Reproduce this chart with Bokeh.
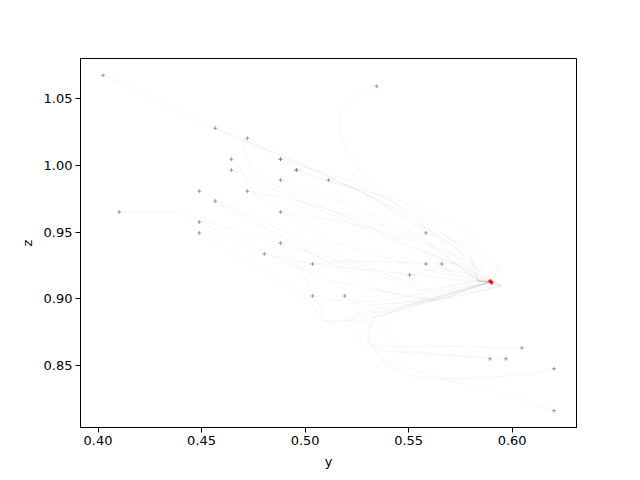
from bokeh.plotting import figure
from bokeh.embed import file_html
from bokeh.resources import INLINE
from bokeh.models import Range1d, FixedTicker, PrintfTickFormatter

# trajectories (y, z)
traj_x = [
    [0.4024, 0.4300, 0.4566, 0.4978, 0.5462, 0.5752, 0.5839, 0.5897],
    [0.4566, 0.4881, 0.5268, 0.5655, 0.5839, 0.5897],
    [0.4721, 0.4697, 0.4750, 0.4881, 0.5462, 0.5801, 0.5897],
    [0.4644, 0.4687, 0.4750, 0.5123, 0.5607, 0.5897],
    [0.4881, 0.5220, 0.5559, 0.5801, 0.5839, 0.5897],
    [0.4958, 0.5268, 0.5607, 0.5849, 0.5897],
    [0.4644, 0.4978, 0.5365, 0.5752, 0.5946, 0.5897],
    [0.4881, 0.5171, 0.5559, 0.5839, 0.5897],
    [0.5113, 0.5462, 0.5752, 0.5936, 0.5897],
    [0.4489, 0.4784, 0.5220, 0.5607, 0.5839, 0.5897],
    [0.4721, 0.4978, 0.5462, 0.5801, 0.5897],
    [0.4566, 0.4881, 0.5365, 0.5655, 0.5946, 0.5897],
    [0.4102, 0.4382, 0.4557, 0.5171, 0.5559, 0.5839, 0.5897],
    [0.4881, 0.5220, 0.5607, 0.5839, 0.5897],
    [0.4489, 0.4784, 0.5123, 0.5607, 0.5946, 0.5897],
    [0.4489, 0.4784, 0.5026, 0.5084, 0.5147, 0.5365, 0.5704, 0.5897],
    [0.4881, 0.4978, 0.5075, 0.5089, 0.5268, 0.5607, 0.5897],
    [0.4803, 0.5036, 0.5365, 0.5704, 0.5897],
    [0.5346, 0.5244, 0.5171, 0.5166, 0.5205, 0.5268, 0.5380, 0.5622, 0.5786, 0.5839, 0.5897],
    [0.5583, 0.5801, 0.5936, 0.5897],
    [0.5036, 0.5220, 0.5559, 0.5801, 0.5897],
    [0.5583, 0.5752, 0.5849, 0.5897],
    [0.5660, 0.5728, 0.5801, 0.5897],
    [0.5505, 0.5607, 0.5752, 0.5897],
    [0.5036, 0.5171, 0.5365, 0.5655, 0.5897],
    [0.5191, 0.5268, 0.5559, 0.5897],
    [0.6047, 0.5559, 0.5283, 0.5210, 0.5254, 0.5704, 0.5897],
    [0.5893, 0.5380, 0.5302, 0.5317, 0.5704, 0.5897],
    [0.5970, 0.5462, 0.5365, 0.5462, 0.5752, 0.5897],
    [0.6202, 0.6106, 0.5786, 0.5544, 0.5380, 0.5302, 0.5326, 0.5428, 0.5752, 0.5897],
    [0.6202, 0.6028, 0.5704, 0.5380, 0.5283, 0.5350, 0.5655, 0.5897],
]
traj_y = [
    [1.0672, 1.0478, 1.0276, 1.0015, 0.9657, 0.9358, 0.9134, 0.9127],
    [1.0276, 1.0067, 0.9806, 0.9433, 0.9134, 0.9127],
    [1.0201, 1.0127, 0.9955, 0.9828, 0.9433, 0.9209, 0.9127],
    [1.0045, 0.9978, 0.9784, 0.9433, 0.9209, 0.9127],
    [1.0045, 0.9881, 0.9619, 0.9321, 0.9134, 0.9127],
    [0.9963, 0.9806, 0.9507, 0.9246, 0.9127],
    [0.9963, 0.9731, 0.9470, 0.9246, 0.9097, 0.9127],
    [0.9888, 0.9731, 0.9470, 0.9134, 0.9127],
    [0.9888, 0.9731, 0.9545, 0.9231, 0.9127],
    [0.9806, 0.9582, 0.9284, 0.9060, 0.9134, 0.9127],
    [0.9806, 0.9731, 0.9507, 0.9269, 0.9127],
    [0.9731, 0.9470, 0.9060, 0.8985, 0.9097, 0.9127],
    [0.9649, 0.9649, 0.9560, 0.9284, 0.9060, 0.9134, 0.9127],
    [0.9649, 0.9567, 0.9396, 0.9134, 0.9127],
    [0.9575, 0.9358, 0.9134, 0.8985, 0.9097, 0.9127],
    [0.9493, 0.9224, 0.8985, 0.8836, 0.8821, 0.8910, 0.9022, 0.9127],
    [0.9418, 0.9209, 0.8948, 0.8836, 0.8836, 0.8985, 0.9127],
    [0.9336, 0.9261, 0.9209, 0.9149, 0.9127],
    [1.0590, 1.0537, 1.0381, 1.0254, 1.0104, 0.9940, 0.9769, 0.9530, 0.9358, 0.9134, 0.9127],
    [0.9493, 0.9396, 0.9231, 0.9127],
    [0.9261, 0.9284, 0.9269, 0.9172, 0.9127],
    [0.9261, 0.9269, 0.9209, 0.9127],
    [0.9261, 0.9172, 0.9097, 0.9127],
    [0.9179, 0.9224, 0.9209, 0.9127],
    [0.9022, 0.8985, 0.8985, 0.9060, 0.9127],
    [0.9022, 0.8948, 0.8985, 0.9127],
    [0.8634, 0.8649, 0.8649, 0.8813, 0.8888, 0.9060, 0.9127],
    [0.8552, 0.8612, 0.8709, 0.8858, 0.9022, 0.9127],
    [0.8552, 0.8612, 0.8761, 0.8948, 0.9060, 0.9127],
    [0.8478, 0.8440, 0.8403, 0.8410, 0.8515, 0.8687, 0.8821, 0.8910, 0.9060, 0.9127],
    [0.8164, 0.8261, 0.8388, 0.8537, 0.8739, 0.8888, 0.9022, 0.9127],
]

# start points (duplicates overlap and look darker)
start_y = [t[0] for t in traj_x] + [0.4881, 0.4958]
start_z = [t[0] for t in traj_y] + [1.0045, 0.9963]

# end points
end_y = [0.5893, 0.5897, 0.5902, 0.5899]
end_z = [0.9134, 0.9127, 0.9120, 0.9130]

x_ticks = [0.40, 0.45, 0.50, 0.55, 0.60]
y_ticks = [0.85, 0.90, 0.95, 1.00, 1.05]

all_x = [v for t in traj_x for v in t]
all_y = [v for t in traj_y for v in t]
xmin, xmax = min(all_x), max(all_x)
ymin, ymax = min(all_y), max(all_y)
mx = 0.05 * (xmax - xmin)
my = 0.05 * (ymax - ymin)

W, H = 632, 472
p = figure(width=W, height=H, output_backend="svg", toolbar_location=None,
           x_range=Range1d(xmin - mx, xmax + mx), y_range=Range1d(ymin - my, ymax + my),
           min_border_left=80, min_border_right=W - 576, min_border_top=58,
           min_border_bottom=H - 427)
p.background_fill_color = "white"
p.border_fill_color = "white"
p.outline_line_color = "black"
p.outline_line_width = 1
p.xgrid.visible = False
p.ygrid.visible = False

p.multi_line(traj_x, traj_y, line_color="gray", line_alpha=0.13, line_width=0.6)
p.scatter(start_y, start_z, marker="cross", size=4, line_color="gray", line_alpha=0.75, line_width=1)
p.scatter(end_y, end_z, marker="cross", size=4, line_color="red", line_alpha=0.9, line_width=1)

for ax in (p.xaxis[0], p.yaxis[0]):
    ax.axis_line_color = "black"
    ax.major_tick_out = 5
    ax.major_tick_in = 0
    ax.minor_tick_line_color = None
    ax.major_label_text_font = "DejaVu Sans"
    ax.major_label_text_font_size = "13px"
    ax.major_label_text_color = "black"
    ax.axis_label_text_font = "DejaVu Sans"
    ax.axis_label_text_font_size = "13px"
    ax.axis_label_text_font_style = "normal"
    ax.axis_label_text_color = "black"
    ax.major_label_standoff = 3
    ax.axis_label_standoff = 6

p.xaxis[0].ticker = FixedTicker(ticks=x_ticks)
p.yaxis[0].ticker = FixedTicker(ticks=y_ticks)
p.xaxis[0].formatter = PrintfTickFormatter(format="%.2f")
p.yaxis[0].formatter = PrintfTickFormatter(format="%.2f")
p.xaxis[0].axis_label = "y"
p.yaxis[0].axis_label = "z"

open("out.html", "w").write(file_html(p, INLINE))
